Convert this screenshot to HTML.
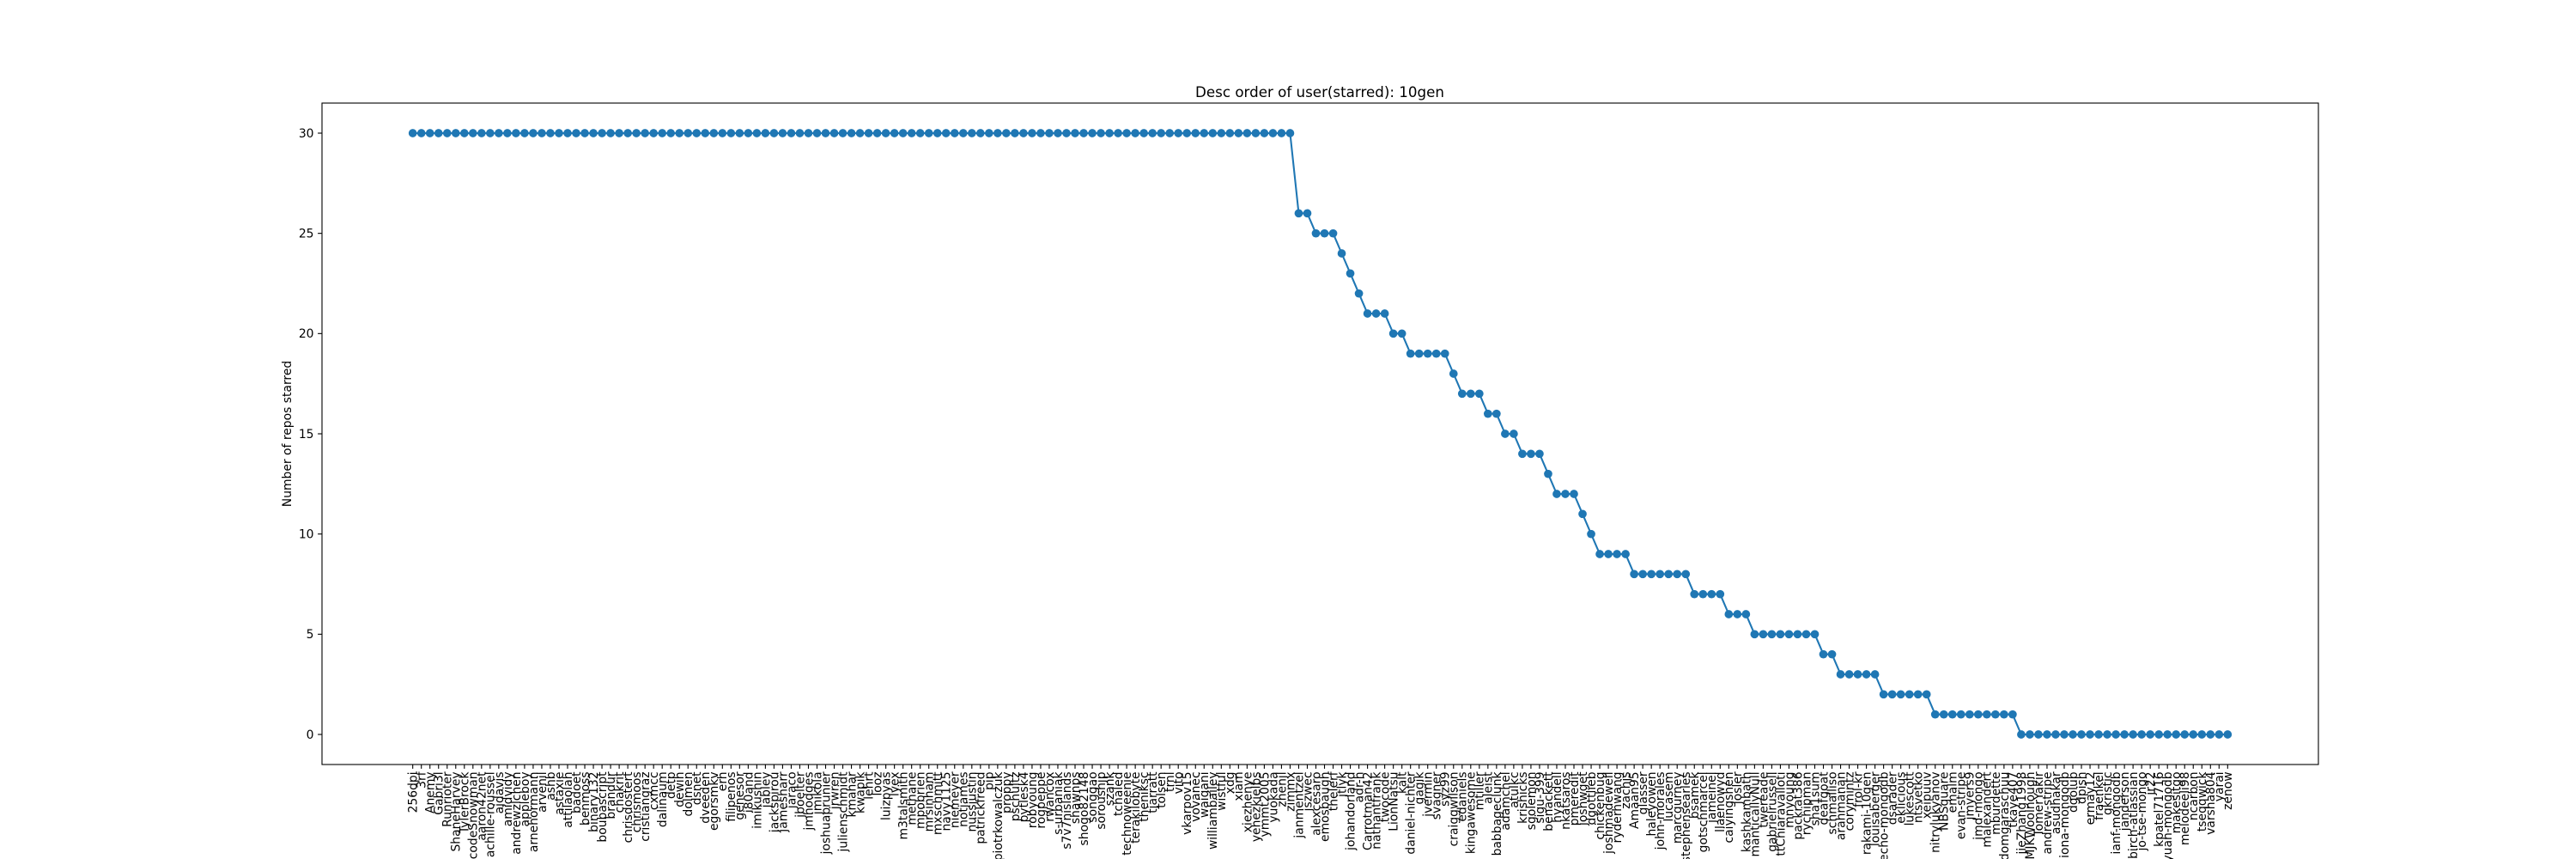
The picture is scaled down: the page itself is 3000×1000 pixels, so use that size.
<!DOCTYPE html>
<html><head><meta charset="utf-8">
<style>
html,body{margin:0;padding:0;background:#fff;}
svg{display:block;font-family:"DejaVu Sans","Liberation Sans",sans-serif;}
</style></head>
<body>
<svg id="chart" width="3000" height="1000" viewBox="0 0 3000 1000" xmlns="http://www.w3.org/2000/svg">
<rect x="0" y="0" width="3000" height="1000" fill="#fff"/>
<text x="1537" y="113" font-size="16.7" text-anchor="middle" fill="#000">Desc order of user(starred): 10gen</text>
<text transform="translate(339,505) rotate(-90)" font-size="13.9" text-anchor="middle" fill="#000">Number of repos starred</text>
<g id="plot"></g>
</svg>
<script>
const users = ["256dpi","3rf","Anemy","Gabri3l","Runrioter","ShaneHarvey","TylerBrock","codeSnowman","aaron42net","achille-roussel","ajdavis","amidvidy","andrewzlchen","appleboy","arnehormann","arvenil","ashb","astaxie","attilaolah","badoet","benmoss","binary132","boubascript","brandur","chakrit","chrisdostert","chrismoos","cristiangraz","cxmcc","dalinaum","detp","dewin","dolmen","dsnet","dveeden","egorsmkv",
"erh","filipenos","genesor","i80and","imikushin","jabley","jackspirou","jamesharr","jaraco","jboelter","jmhodges","jmikola","joshuaprunier","jrwren","julienschmidt","kmahar","kwapik","lehrt","looz","luizpyas","lyex","m3talsmith","methane","mpobrien","mrsinham","mxschmitt","navy1125","niemeyer","notjames","nussjustin","patrickfreed","pip","piotrkowalczuk","proppy","pschultz",
"pytlesk4","robyoung","rogpeppe","rwancox","s-urbaniak","s7v7nislands","shawnps","shogo82148","songgao","soroushjp","szank","tchaled","technoweenie","terakilobyte","theniksc","tjarratt","tolsen","trnl","vito","vkarpov15","vovanec","waigani","williambailey","wistful","xdg","xiam","xiezhenye","yehezkielbs","ymmt2005","yuokada","zhenjl","zimmx",
"janmentzel","jszwec",
"alexcesaro","emosbaugh","thelerf","jtlyk","johandorland","adr-h","Carrotman42","nathantfrank","twocode","LionNatsu","kalt","daniel-nichter","gagik","jvermin","svagner","syz99","craiggwilson","edaniels","kingawesome","mtiller","aleist","babbageclunk","adamchel","atulkc","krishicks","sgolemon","sigu-399","benackett","hyandell","nkatsaros","pmeredit","joshwget","dgottlieb","chickenbug","joshmadewell","ryderhwang",
"zachjs","Amaan95","glasser","haleyowen","john-morales","lucasem","marcgurney","stephensearles","bsamek","gotschmarcel","jameinel","llaenowyd","caiyingshen","josler","kashkambath","manticallyNull","twereade","gabrielrussell","ttChiaravalloti","mnyoung","packrat386","rychipman","sha1sum","deafgoat","schmalliso","arahmanan","corymintz","frol-kr","rakami-10gen","louisaberger","echo-mongodb","dsarader","eklicious","lukescott","ntsvetko",
"xeipuuv","nitrylukyanov","NBSquare","emalm","evan-stripe","jmyers9","jmd-mongo","malexandert","mburdette","rdomgaraschuu","tkaye407","jieZhang1998","MJKWoolnough","TomerYakir","andrew-stripe","asudhakar","iona-mongodb","dgolub","dpish","ermay12","fraenkel","gkristic","ianf-mongodb","janderson","birch-atlassian","jo-tse-mongo","jr22","kpatel71716","yuan-mongodb","makesitgo","melodeeli98","ncarbon","tseqqwick","varsha804","yarai","zenow"];
const levels = [30,26,25,24,23,22,21,20,19,18,17,16,15,14,13,12,11,10,9,8,7,6,5,4,3,2,1,0];
const runLengths = [103,2,3,1,1,1,3,2,5,1,3,2,2,3,1,3,1,1,4,7,4,3,8,2,5,6,10,25];
const yTicks = [0,5,10,15,20,25,30];

const starred = [];
levels.forEach((v,i)=>{for(let k=0;k<runLengths[i];k++) starred.push(v);});

const L=375,R=2700,T=120,B=890;
const n=starred.length;
const xmin=-0.05*(n-1), xmax=(n-1)*1.05;
const ymaxD=Math.max(...starred), yminD=Math.min(...starred);
const ymin=yminD-0.05*(ymaxD-yminD), ymax=ymaxD+0.05*(ymaxD-yminD);
const xs=i=>L+(i-xmin)/(xmax-xmin)*(R-L);
const ys=v=>B-(v-ymin)/(ymax-ymin)*(B-T);
const NS="http://www.w3.org/2000/svg";
const g=document.getElementById('plot');
function mk(tag,attrs,parent){const e=document.createElementNS(NS,tag);for(const k in attrs)e.setAttribute(k,attrs[k]);(parent||g).appendChild(e);return e;}

const line=mk('polyline',{points:starred.map((v,i)=>xs(i).toFixed(2)+','+ys(v).toFixed(2)).join(' '),fill:'none',stroke:'#1f77b4','stroke-width':2.08,'stroke-linejoin':'round'});


starred.forEach((v,i)=>{
  const c=mk('circle',{cx:xs(i).toFixed(2),cy:ys(v).toFixed(2),r:4.85,fill:'#1f77b4'});
  
  
});
yTicks.forEach(t=>{
  const y=ys(t);
  const tk=mk('line',{x1:L-4.9,x2:L,y1:y,y2:y,stroke:'#000','stroke-width':1.1});
  
  
  const tx=mk('text',{x:L-9.5,y:y+4.8,'font-size':13.9,'text-anchor':'end',fill:'#000'});
  tx.textContent=t;
  
  
});
users.forEach((u,i)=>{
  const x=xs(i);
  const tk=mk('line',{x1:x,x2:x,y1:B,y2:B+4.9,stroke:'#000','stroke-width':1.1});
  
  
  const tx=mk('text',{transform:'translate('+(x+4.9).toFixed(2)+','+(B+8.4)+') rotate(-90)','font-size':13.9,'text-anchor':'end',fill:'#000'});
  tx.textContent=u;
  
  
});
const frame=mk('rect',{x:L,y:T,width:R-L,height:B-T,fill:'none',stroke:'#000','stroke-width':1.1});


</script>
</body></html>
